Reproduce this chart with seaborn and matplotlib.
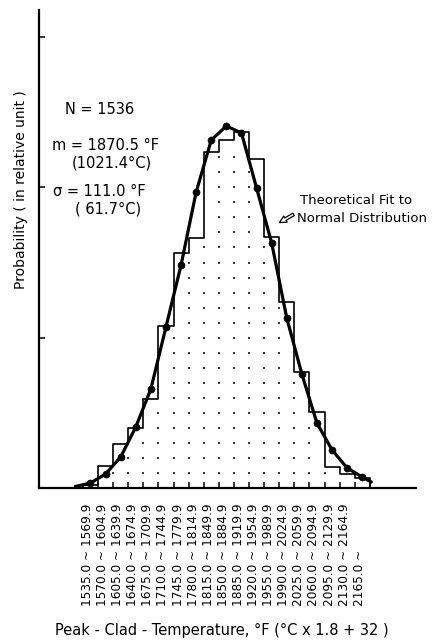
import numpy as np
import pandas as pd
import matplotlib
matplotlib.use("Agg")
import matplotlib.pyplot as plt
import seaborn as sns
from matplotlib.transforms import blended_transform_factory

# Temperature classes (°F), 35 °F wide
bin_labels = [
    "1535.0 ~ 1569.9", "1570.0 ~ 1604.9", "1605.0 ~ 1639.9", "1640.0 ~ 1674.9",
    "1675.0 ~ 1709.9", "1710.0 ~ 1744.9", "1745.0 ~ 1779.9", "1780.0 ~ 1814.9",
    "1815.0 ~ 1849.9", "1850.0 ~ 1884.9", "1885.0 ~ 1919.9", "1920.0 ~ 1954.9",
    "1955.0 ~ 1989.9", "1990.0 ~ 2024.9", "2025.0 ~ 2059.9", "2060.0 ~ 2094.9",
    "2095.0 ~ 2129.9", "2130.0 ~ 2164.9", "2165.0 ~",
]
# Observed probability per class (relative units)
bin_heights = [0.02, 0.146, 0.293, 0.40, 0.592, 1.078, 1.564, 1.663, 2.236, 2.315,
               2.369, 2.189, 1.67, 1.238, 0.772, 0.506, 0.14, 0.093, 0.067]
# Theoretical normal fit, sampled at class centres (plus the two tails)
fit_positions = [-1.0, 0, 1, 2, 3, 4, 5, 6, 7, 8, 9, 10, 11, 12, 13, 14, 15, 16, 17, 18, 18.6]
fit_values = [0.01, 0.033, 0.093, 0.206, 0.406, 0.659, 1.071, 1.484, 1.969, 2.315, 2.408,
              2.362, 1.996, 1.63, 1.131, 0.758, 0.432, 0.253, 0.133, 0.073, 0.04]

W, H = 437, 640
sns.set_style("ticks")
plt.rcParams["font.family"] = ["DejaVu Sans"]
plt.rcParams["text.color"] = "black"

fig = plt.figure(figsize=(W / 100, H / 100), dpi=100)
ax = fig.add_axes([39 / W, 1 - 488 / H, (416 - 39) / W, (488 - 10) / H])

centers = list(range(len(bin_heights)))
edges = [c - 0.5 for c in centers] + [centers[-1] + 0.5]
hist_df = pd.DataFrame({"cls": centers, "p": bin_heights})

# stippled area under the histogram: dot columns on class boundaries
dots_x, dots_y = [], []
for k in range(1, len(bin_heights)):
    top = min(bin_heights[k - 1], bin_heights[k])
    yy = 0.1
    while yy < top - 0.03:
        dots_x.append(k - 0.5)
        dots_y.append(yy)
        yy += 0.1
sns.scatterplot(x=dots_x, y=dots_y, marker="|", s=3.5, color="black", linewidth=1.1, ax=ax)

sns.histplot(data=hist_df, x="cls", weights="p", bins=edges, element="step",
             fill=True, color="black", facecolor="none", edgecolor="black",
             linewidth=1.2, ax=ax)

sns.lineplot(x=fit_positions, y=fit_values, color="black", linewidth=2.3, ax=ax,
             sort=False)
sns.scatterplot(x=fit_positions[1:-1], y=fit_values[1:-1], s=26, color="black",
                edgecolor="black", ax=ax, zorder=5)

ax.set_xlim(-3.41, 21.56)
ax.set_ylim(0, 3.18)
ax.set_xticks(np.arange(0.5, len(bin_heights), 1.0))
ax.set_xticklabels([])
ax.set_yticks([1, 2, 3])
ax.set_yticklabels([])
ax.tick_params(axis="both", direction="in", length=4, width=1.1, color="black")
ax.set_xlabel("")
ax.set_ylabel("")
sns.despine(ax=ax)
for s in ("left", "bottom"):
    ax.spines[s].set_linewidth(1.6)
    ax.spines[s].set_color("black")

# class labels, written upwards below the axis
trans = blended_transform_factory(ax.transData, ax.transAxes)
for i, lab in enumerate(bin_labels):
    ax.text(i - 0.2, -0.247, lab, transform=trans, rotation=90, ha="center",
            va="bottom", fontsize=8.7, color="black")


def px(x, y):
    return x / W, 1 - y / H


fig.text(*px(21, 190), "Probability ( in relative unit )", rotation=90,
         ha="center", va="center", fontsize=10)
fig.text(*px(222, 630), "Peak - Clad - Temperature, °F (°C x 1.8 + 32 )",
         ha="center", va="center", fontsize=10.5)

stat_kw = dict(ha="left", va="center", fontsize=10.5)
fig.text(*px(65, 110), "N = 1536", **stat_kw)
fig.text(*px(52, 145), "m = 1870.5 °F", **stat_kw)
fig.text(*px(72, 163), "(1021.4°C)", **stat_kw)
fig.text(*px(53, 192), "σ = 111.0 °F", **stat_kw)
fig.text(*px(75, 209), "( 61.7°C)", **stat_kw)

fig.text(*px(300, 200), "Theoretical Fit to", ha="left", va="center", fontsize=9.5)
fig.text(*px(297, 218), "Normal Distribution", ha="left", va="center", fontsize=9.5)
ax.annotate("", xy=px(277, 224), xycoords="figure fraction",
            xytext=px(296, 213), textcoords="figure fraction",
            arrowprops=dict(arrowstyle="simple,head_width=0.5,head_length=0.5,tail_width=0.2",
                            fc="white", ec="black", lw=0.9))

fig.savefig("out.png", dpi=100)
